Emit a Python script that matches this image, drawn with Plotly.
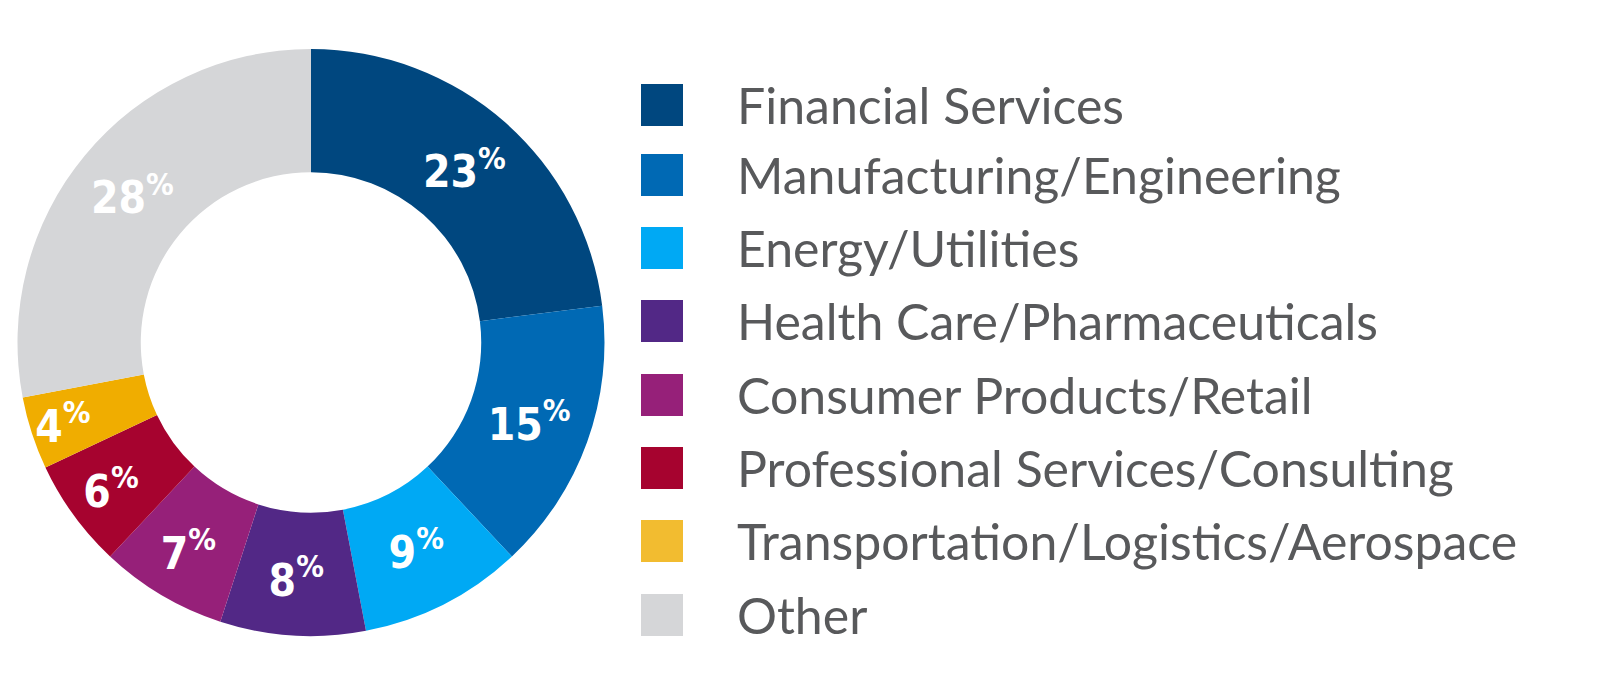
import plotly.graph_objects as go

categories = ["Financial Services", "Manufacturing/Engineering", "Energy/Utilities",
              "Health Care/Pharmaceuticals", "Consumer Products/Retail",
              "Professional Services/Consulting", "Transportation/Logistics/Aerospace", "Other"]
values = [23, 15, 9, 8, 7, 6, 4, 28]
colors = ["#00477f", "#0069b4", "#00a9f4", "#522886", "#962079", "#a6032f", "#f0ad00", "#d5d6d8"]

W, H = 1600, 680
fig = go.Figure(go.Pie(
    labels=categories, values=values, sort=False, direction="clockwise", rotation=0,
    hole=0.58, marker=dict(colors=colors, line=dict(width=0)),
    texttemplate="%{value}<sup>%</sup>", textposition="inside",
    insidetextorientation="horizontal",
    textfont=dict(family="DejaVu Sans Condensed", size=44, color="white", weight="bold"),
    domain=dict(x=[8/W, 598/W], y=[1-628/H, 1-41/H]),
    showlegend=False, hoverinfo="label+percent"))

fig.update_layout(uniformtext=dict(minsize=40, mode="show"))

row_y = [97, 167, 240, 313, 387, 460, 533, 607]
legend_colors = list(colors)
legend_colors[6] = "#f2bc30"
for cat, col, y in zip(categories, legend_colors, row_y):
    fig.add_shape(type="rect", xref="paper", yref="paper",
                  x0=633/W, x1=675/W, y0=1-(y+21)/H, y1=1-(y-21)/H,
                  fillcolor=col, line=dict(width=0))
    fig.add_annotation(text=cat, xref="paper", yref="paper", x=727/W, y=1-y/H,
                       xanchor="left", yanchor="middle", showarrow=False,
                       font=dict(family="Lato", size=50, color="#58595b"))

fig.update_layout(width=W, height=H, margin=dict(l=0, r=0, t=0, b=0),
                  paper_bgcolor="white", plot_bgcolor="white")
fig.write_html("out.html")
